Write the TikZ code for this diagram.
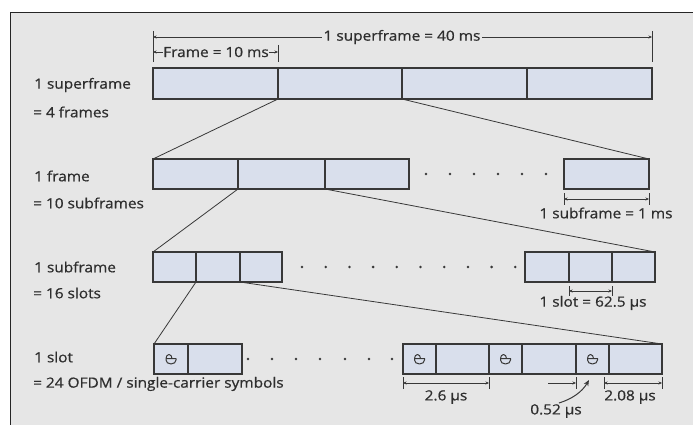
\documentclass[tikz,border=0pt]{standalone}
\usepackage{fontspec}
\setmainfont{Open Sans}[FakeStretch=1.1, FakeBold=0.7]
\usetikzlibrary{arrows.meta}
\definecolor{bg}{HTML}{E6E6E6}
\definecolor{boxfill}{HTML}{D9DFEC}
\definecolor{edge}{HTML}{383838}
\definecolor{txt}{HTML}{2E2E2E}
\begin{document}
\begin{tikzpicture}[x=1pt,y=-1pt,
 cell/.style={draw=edge, fill=boxfill, line width=1.2pt, inner sep=0, outer sep=0, anchor=north west, minimum height=30},
 lbl/.style={anchor=west, text=txt, font=\fontsize{14}{16}\selectfont, inner sep=0},
 plaintxt/.style={text=txt, font=\fontsize{14}{16}\selectfont, inner sep=0},
 dimtxt/.style={text=txt, font=\fontsize{14}{16}\selectfont, fill=bg, inner sep=1.5pt},
 dimline/.style={draw=edge, line width=0.8pt, {Stealth[length=3.5pt,width=3pt]}-{Stealth[length=3.5pt,width=3pt]}},
 halfdim/.style={draw=edge, line width=0.8pt, -{Stealth[length=3.5pt,width=3pt]}},
 tickline/.style={draw=edge, line width=1pt},
 zoomline/.style={draw=edge, line width=0.8pt},
 dotmark/.style={circle, fill=edge, inner sep=0, minimum size=2.8}
]
\useasboundingbox (0,0) rectangle (693,425);
\clip (0,0) rectangle (693,425);
\fill[white] (0,0) rectangle (693,425);
\draw[fill=bg, draw=black!85, line width=1pt] (10,13) rectangle (710,440);

% ---------- labels ----------
\node[lbl] (l1a) at (34,85) {1 superframe};
\node[lbl] (l1b) at (33,112) {= 4 frames};
\node[lbl] (l2a) at (34,176) {1 frame};
\node[lbl] (l2b) at (33,203) {= 10 subframes};
\node[lbl] (l3a) at (34,267) {1 subframe};
\node[lbl] (l3b) at (33,293) {= 16 slots};
\node[lbl] (l4a) at (34,357) {1 slot};
\node[lbl] (l4b) at (33,384) {= 24 OFDM / single-carrier symbols};

% ---------- row 1: superframe ----------
\node[cell, minimum width=125, minimum height=31] (s1) at (153,68) {};
\node[cell, minimum width=124, minimum height=31] (s2) at (278,68) {};
\node[cell, minimum width=125, minimum height=31] (s3) at (402,68) {};
\node[cell, minimum width=125, minimum height=31] (s4) at (527,68) {};

% superframe dimension
\coordinate (sfL) at (153,37);
\coordinate (sfR) at (652,37);
\draw[tickline] (153,31) -- (153,62);
\draw[tickline] (652,31) -- (652,62);
\draw[tickline] (278,45) -- (278,62);
\draw[dimline] (sfL) -- (sfR);
\node[dimtxt] (sft) at (402,37) {1 superframe = 40 ms};
\coordinate (frL) at (153,52);
\coordinate (frR) at (278,52);
\draw[dimline] (frL) -- (frR);
\node[dimtxt, inner sep=0.3pt] (frt) at (216,52) {Frame = 10 ms};

% ---------- row 2: frame ----------
\node[cell, minimum width=85] (f1) at (153,159) {};
\node[cell, minimum width=87] (f2) at (238,159) {};
\node[cell, minimum width=84] (f3) at (325,159) {};
\node[cell, minimum width=85] (f10) at (564,159) {};
\foreach \x [count=\i] in {426,450,474,498,522,546}
  \node[dotmark] (fd\i) at (\x,174) {};
\draw[tickline] (564,193) -- (564,205);
\draw[tickline] (649,193) -- (649,205);
\coordinate (sbL) at (564,199);
\coordinate (sbR) at (649,199);
\draw[dimline] (sbL) -- (sbR);
\node[plaintxt] (sbt) at (606,213) {1 subframe = 1 ms};

% ---------- row 3: subframe ----------
\node[cell, minimum width=43] (u1) at (153,252) {};
\node[cell, minimum width=44] (u2) at (196,252) {};
\node[cell, minimum width=42] (u3) at (240,252) {};
\node[cell, minimum width=44] (u14) at (525,252) {};
\node[cell, minimum width=43] (u15) at (569,252) {};
\node[cell, minimum width=43] (u16) at (612,252) {};
\foreach \x [count=\i] in {302,325.7,349.4,373.1,396.8,420.5,444.2,467.9,491.6,515.3}
  \node[dotmark] (ud\i) at (\x,267) {};
\draw[tickline] (569,286) -- (569,296);
\draw[tickline] (612,286) -- (612,296);
\coordinate (slL) at (569,291);
\coordinate (slR) at (612,291);
\draw[dimline] (slL) -- (slR);
\node[plaintxt] (slt) at (593,303) {1 slot = 62.5 μs};

% ---------- row 4: slot ----------
\node[cell, minimum width=34] (c1) at (154,344) {};
\node[cell, minimum width=54] (d1) at (188,344) {};
\node[cell, minimum width=33] (c2) at (403,344) {};
\node[cell, minimum width=53] (e2) at (436,344) {};
\node[cell, minimum width=33] (c3) at (489,344) {};
\node[cell, minimum width=54] (e3) at (522,344) {};
\node[cell, minimum width=33] (c4) at (576,344) {};
\node[cell, minimum width=53] (e4) at (609,344) {};
\foreach \x [count=\i] in {248,272,296,320,345,369,392}
  \node[dotmark] (sd\i) at (\x,359) {};

% cyclic prefix icons
\foreach \n in {c1,c2,c3,c4}{
  \begin{scope}[shift={(\n.center)}, x=1pt, y=-1pt]
    \draw[edge, line width=1pt, line join=round]
      (-5,-0.5) -- (5,-0.5) -- (5,1) arc[start angle=0, end angle=180, x radius=5, y radius=4] -- (-5,-0.5)
      arc[start angle=180, end angle=360, x radius=3, y radius=4];
  \end{scope}
}

% dimensions row 4
\draw[tickline] (403,377) -- (403,389);
\draw[tickline] (489,377) -- (489,389);
\coordinate (a26L) at (403,383);
\coordinate (a26R) at (489,383);
\draw[dimline] (a26L) -- (a26R);
\node[plaintxt] (t26) at (446,397) {2.6 μs};

\draw[tickline] (576,377) -- (576,389);
\coordinate (a52s) at (548,383);
\coordinate (a52e) at (576,383);
\draw[halfdim] (a52s) -- (a52e);
\node[plaintxt] (t52) at (556,411) {0.52 μs};
\coordinate (cv0) at (559,403);
\coordinate (cv1) at (589,380);
\draw[draw=edge, line width=1pt, -{Stealth[length=6pt,width=5pt]}] (cv0) .. controls (572,399) and (582,392) .. (cv1);

\draw[tickline] (604,377) -- (604,389);
\draw[tickline] (662,377) -- (662,389);
\coordinate (a208L) at (604,383);
\coordinate (a208R) at (662,383);
\draw[dimline] (a208L) -- (a208R);
\node[plaintxt] (t208) at (630,397) {2.08 μs};

% ---------- zoom connectors ----------
\draw[zoomline] (s2.south west) -- (f1.north west);
\draw[zoomline] (s3.south west) -- (f10.north east);
\draw[zoomline] (f2.south west) -- (u1.north west);
\draw[zoomline] (f3.south west) -- (u16.north east);
\draw[zoomline] (u2.south west) -- (c1.north west);
\draw[zoomline] (u3.south west) -- (e4.north east);
\end{tikzpicture}
\end{document}
